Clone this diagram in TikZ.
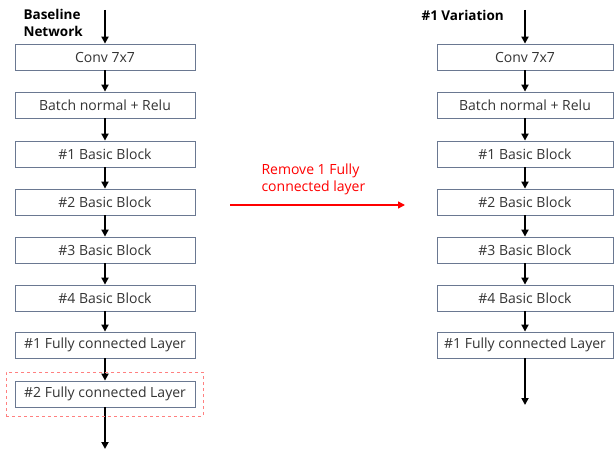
\documentclass[tikz,border=0pt]{standalone}
\usepackage{fontspec}
\setmainfont{Open Sans}
\usetikzlibrary{arrows.meta}
\definecolor{boxline}{HTML}{6A7891}
\definecolor{dashred}{HTML}{FF8080}
\begin{document}
\begin{tikzpicture}[x=1pt,y=-1pt,
  layer/.style={draw=boxline, line width=0.8pt, minimum width=180pt, minimum height=26pt, inner sep=0pt, font=\fontsize{14}{16}\selectfont, text=black!80},
  flow/.style={line width=1.8pt, -{Triangle[length=7pt,width=7pt]}},
  title/.style={font=\bfseries\fontsize{13.5}{17.5}\selectfont, align=left, anchor=west}
]
\useasboundingbox (0,0) rectangle (614,452);
% left column
\foreach \n/\t/\y in {a1/Conv 7x7/57, a2/Batch normal + Relu/105, a3/\#1 Basic Block/154, a4/\#2 Basic Block/202, a5/\#3 Basic Block/250, a6/\#4 Basic Block/298, a7/\#1 Fully connected Layer/345, a8/\#2 Fully connected Layer/394}
  \node[layer] (\n) at (105,\y) {\t};
\coordinate (a0) at (105,10);
\coordinate (a9) at (105,449);
\draw[flow] (a0) -- (a1.north);
\foreach \p/\q in {a1/a2,a2/a3,a3/a4,a4/a5,a5/a6,a6/a7,a7/a8}
  \draw[flow] (\p.south) -- (\q.north);
\draw[flow] (a8.south) -- (a9);
\node[draw=dashred, dashed, line width=0.9pt, minimum width=197pt, minimum height=44pt, inner sep=0pt] (hl) at (104.5,394) {};
% right column
\foreach \n/\t/\y in {b1/Conv 7x7/57, b2/Batch normal + Relu/105, b3/\#1 Basic Block/154, b4/\#2 Basic Block/202, b5/\#3 Basic Block/250, b6/\#4 Basic Block/298, b7/\#1 Fully connected Layer/345}
  \node[layer, minimum width=176pt] (\n) at (525,\y) {\t};
\coordinate (b0) at (525,10);
\coordinate (b8) at (525,405);
\draw[flow] (b0) -- (b1.north);
\foreach \p/\q in {b1/b2,b2/b3,b3/b4,b4/b5,b5/b6,b6/b7}
  \draw[flow] (\p.south) -- (\q.north);
\draw[flow] (b7.south) -- (b8);
% titles
\node[title] (t1) at (20,23) {Baseline\\Network};
\node[title] (t2) at (418,15) {\#1 Variation};
% middle arrow
\coordinate (m0) at (230,205);
\coordinate (m1) at (405,205);
\draw[red, line width=1.4pt, -{Triangle[length=7pt,width=7pt]}] (m0) -- (m1);
\node[text=red, align=left, anchor=west, font=\fontsize{14}{17}\selectfont] (lbl) at (258,179) {Remove 1 Fully\\connected layer};
\end{tikzpicture}
\end{document}
